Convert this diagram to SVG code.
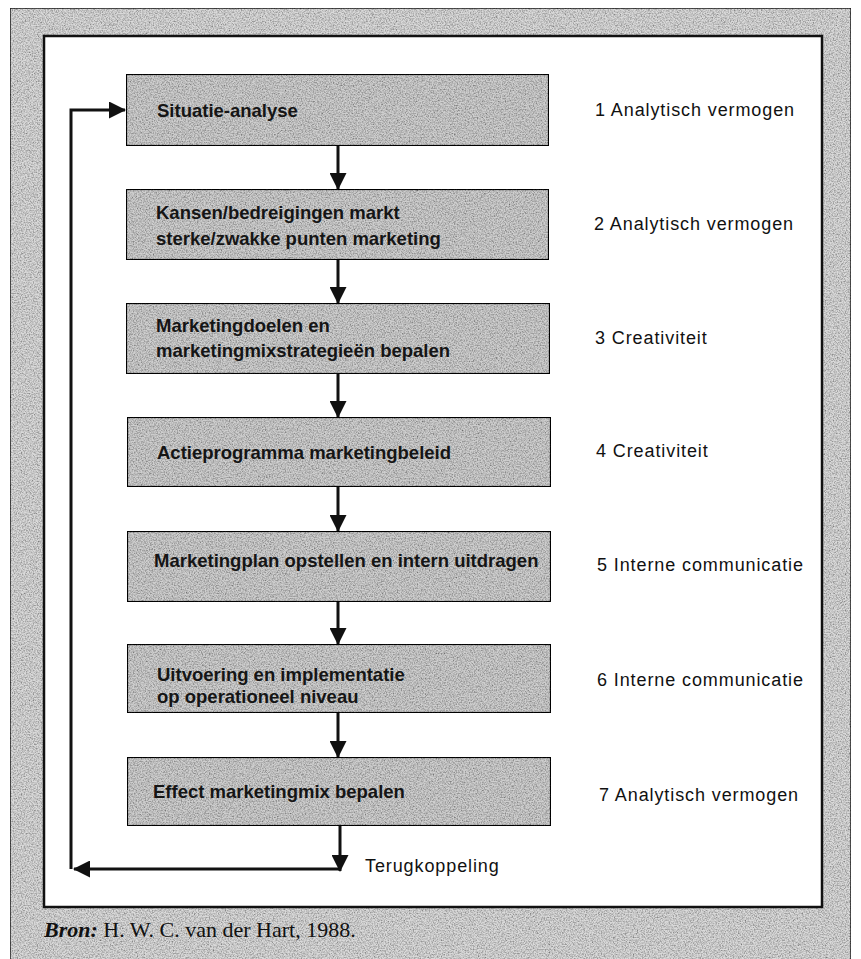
<svg xmlns="http://www.w3.org/2000/svg" width="861" height="959" viewBox="0 0 861 959">
  <style>
    .box { fill: #cfcfcf; stroke: #111; stroke-width: 2.2; }
    .bt { font-family: "Liberation Sans", Arial, sans-serif; font-weight: bold; font-size: 18.5px; fill: #151515; }
    .lbl { font-family: "Liberation Sans", Arial, sans-serif; font-size: 18px; letter-spacing: 0.9px; fill: #111; }
    .con { fill: none; stroke: #111; stroke-width: 3; }
    .src { font-family: "Liberation Serif", "Times New Roman", serif; font-size: 22px; fill: #111; }
  </style>
  <defs>
    <filter id="grain" x="0" y="0" width="1" height="1" primitiveUnits="userSpaceOnUse">
      <feTurbulence type="fractalNoise" baseFrequency="0.75" numOctaves="2" seed="7" result="n"/>
      <feColorMatrix in="n" type="matrix" values="0 0 0 0 0  0 0 0 0 0  0 0 0 0 0  1.4 0 0 0 -0.5" result="dots"/>
      <feComposite in="dots" in2="SourceGraphic" operator="in" result="cd"/>
      <feMerge><feMergeNode in="SourceGraphic"/><feMergeNode in="cd"/></feMerge>
    </filter>
    <marker id="ah" markerUnits="userSpaceOnUse" markerWidth="17" markerHeight="17" viewBox="0 0 17 17" refX="16" refY="8.5" orient="auto">
      <path d="M0,0 L17,8.5 L0,17 z" fill="#111"/>
    </marker>
  </defs>

  <rect x="0" y="0" width="861" height="959" fill="#ffffff"/>
  <g id="page">
    <rect x="10" y="8" width="841" height="960" fill="#dadada" stroke="#222" stroke-width="1.5" filter="url(#grain)"/>
    <rect x="44" y="36" width="778" height="871" fill="#ffffff" stroke="#111" stroke-width="2.5"/>
  </g>

  <g id="connectors">
    <line class="con" x1="338" y1="146" x2="338" y2="189" marker-end="url(#ah)"/>
    <line class="con" x1="338" y1="260" x2="338" y2="303" marker-end="url(#ah)"/>
    <line class="con" x1="338" y1="374" x2="338" y2="417" marker-end="url(#ah)"/>
    <line class="con" x1="338" y1="487" x2="338" y2="531" marker-end="url(#ah)"/>
    <line class="con" x1="338" y1="602" x2="338" y2="644" marker-end="url(#ah)"/>
    <line class="con" x1="338" y1="713" x2="338" y2="757" marker-end="url(#ah)"/>
    <line class="con" x1="340" y1="826" x2="340" y2="871" marker-end="url(#ah)"/>
    <line class="con" x1="340" y1="869" x2="74" y2="869" marker-end="url(#ah)"/>
    <polyline class="con" points="71,869 71,110 125,110" marker-end="url(#ah)"/>
  </g>

  <g id="n1">
    <rect class="box" x="126" y="74" width="423" height="72" filter="url(#grain)"/>
    <text class="bt" x="157" y="117">Situatie-analyse</text>
  </g>
  <g id="n2">
    <rect class="box" x="126" y="189" width="423" height="71" filter="url(#grain)"/>
    <text class="bt" x="156" y="219">Kansen/bedreigingen markt</text>
    <text class="bt" x="156" y="245">sterke/zwakke punten marketing</text>
  </g>
  <g id="n3">
    <rect class="box" x="126" y="303" width="424" height="71" filter="url(#grain)"/>
    <text class="bt" x="156" y="332">Marketingdoelen en</text>
    <text class="bt" x="156" y="357">marketingmixstrategieën bepalen</text>
  </g>
  <g id="n4">
    <rect class="box" x="127" y="417" width="424" height="70" filter="url(#grain)"/>
    <text class="bt" x="157" y="459">Actieprogramma marketingbeleid</text>
  </g>
  <g id="n5">
    <rect class="box" x="127" y="531" width="424" height="71" filter="url(#grain)"/>
    <text class="bt" x="154" y="567">Marketingplan opstellen en intern uitdragen</text>
  </g>
  <g id="n6">
    <rect class="box" x="127" y="644" width="424" height="69" filter="url(#grain)"/>
    <text class="bt" x="157" y="681">Uitvoering en implementatie</text>
    <text class="bt" x="157" y="703">op operationeel niveau</text>
  </g>
  <g id="n7">
    <rect class="box" x="127" y="757" width="424" height="69" filter="url(#grain)"/>
    <text class="bt" x="153" y="798">Effect marketingmix bepalen</text>
  </g>

  <g id="skills">
    <text class="lbl" x="595" y="116">1 Analytisch vermogen</text>
    <text class="lbl" x="594" y="230">2 Analytisch vermogen</text>
    <text class="lbl" x="595" y="344">3 Creativiteit</text>
    <text class="lbl" x="596" y="457">4 Creativiteit</text>
    <text class="lbl" x="597" y="571">5 Interne communicatie</text>
    <text class="lbl" x="597" y="686">6 Interne communicatie</text>
    <text class="lbl" x="599" y="801">7 Analytisch vermogen</text>
  </g>

  <g id="feedback-label">
    <text class="lbl" x="365" y="872">Terugkoppeling</text>
  </g>

  <g id="source">
    <text class="src" x="44" y="937"><tspan font-style="italic" font-weight="bold">Bron:</tspan> H. W. C. van der Hart, 1988.</text>
  </g>
</svg>
